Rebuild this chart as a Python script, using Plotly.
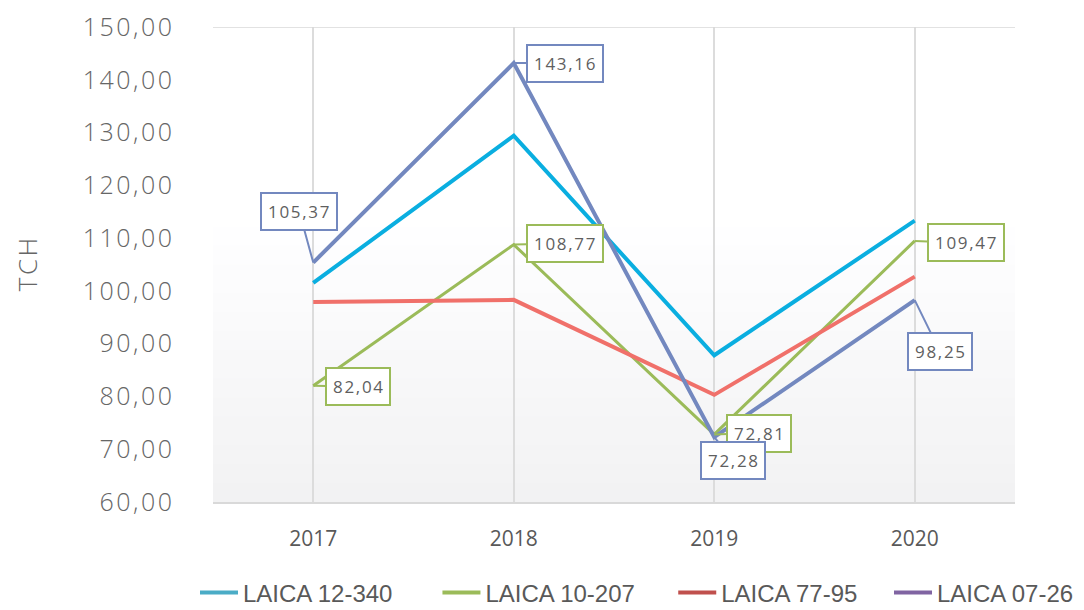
import plotly.graph_objects as go

years = ["2017", "2018", "2019", "2020"]
series_names = ["LAICA 12-340", "LAICA 10-207", "LAICA 77-95", "LAICA 07-26"]
v_12_340 = [101.5, 129.4, 87.8, 113.3]
v_10_207 = [82.04, 108.77, 72.81, 109.47]
v_77_95 = [97.9, 98.3, 80.3, 102.7]
v_07_26 = [105.37, 143.16, 72.28, 98.25]
y_ticks = [60, 70, 80, 90, 100, 110, 120, 130, 140, 150]

line_colors = ["#0AAEE0", "#9BBB59", "#F0706A", "#7388BF"]
legend_colors = ["#4BACC6", "#9BBB59", "#C0504D", "#8064A2"]
line_widths = [4, 3, 4, 4]
all_values = [v_12_340, v_10_207, v_77_95, v_07_26]

HS = "\u200a"
NB = "\u00a0"

W, H = 1068, 602  # page body has an 8px margin
PL, PT, PW, PH = 205, 19, 802, 475


def spaced(s):
    return HS.join(list(s))


def fmt(v):
    return f"{v:.2f}".replace(".", ",")


fig = go.Figure()

# background gradient bands (plot area)
n_bands = 30
for i in range(n_bands):
    y0 = i / n_bands * 0.6
    y1 = (i + 1) / n_bands * 0.6 + 0.002
    t = 1 - i / n_bands
    c = int(round(255 - 13 * t))
    fig.add_shape(type="rect", xref="x domain", yref="y domain",
                  x0=0, x1=1, y0=y0, y1=y1, layer="below",
                  line=dict(width=0), fillcolor=f"rgb({c},{c},{min(255, c + 1)})")

for name, vals, col, w in zip(series_names, all_values, line_colors, line_widths):
    fig.add_trace(go.Scatter(x=years, y=vals, mode="lines", name=name,
                             line=dict(color=col, width=w), showlegend=False,
                             hoverinfo="skip"))

pads = [NB * 6, NB * 5, NB * 4, ""]
for name, col, pad in zip(series_names, legend_colors, pads):
    fig.add_trace(go.Scatter(x=[None], y=[None], mode="lines", name=name + pad,
                             line=dict(color=col, width=4), showlegend=True))

# top border line at 150
fig.add_shape(type="line", xref="x domain", yref="y", x0=0, x1=1,
              y0=150, y1=150, line=dict(color="#D9D9D9", width=1.5))

# callouts: (series index, point index, ax, ay)
callouts = [
    (3, 0, -14, -51),
    (3, 1, 51, 0),
    (1, 1, 51, -1),
    (1, 0, 45, 1),
    (1, 2, 45, -1),
    (3, 2, 19, 23),
    (1, 3, 51, 2),
    (3, 3, 25, 51),
]
for si, pi, ax, ay in callouts:
    v = all_values[si][pi]
    fig.add_annotation(x=pi, y=v, xref="x", yref="y",
                       text=spaced(fmt(v)), showarrow=True,
                       arrowhead=0, arrowwidth=2, arrowcolor=line_colors[si],
                       ax=ax, ay=ay, bordercolor=line_colors[si], borderwidth=2,
                       borderpad=6, bgcolor="white",
                       font=dict(family="Open Sans", size=17, color="#5F5F5F"))

fig.update_layout(
    width=W, height=H,
    margin=dict(l=PL, r=W - PL - PW, t=PT, b=H - PT - PH, autoexpand=False),
    paper_bgcolor="white", plot_bgcolor="white",
    showlegend=True,
    legend=dict(orientation="h", x=(187 - PL) / PW, xanchor="left", xref="paper",
                y=(PT + PH - 585) / PH, yanchor="middle", yref="paper",
                itemwidth=38,
                font=dict(family="Liberation Sans", size=24, color="#595959"),
                bgcolor="rgba(0,0,0,0)"),
    xaxis=dict(type="category", range=[-0.5, 3.5], showgrid=True,
               gridcolor="#DCDCDC", gridwidth=1.5, showline=True,
               linecolor="#D9D9D9", linewidth=1.5, ticks="",
               tickfont=dict(family="Open Sans", size=21, color="#595959"),
               ticklabelstandoff=17, zeroline=False),
    yaxis=dict(range=[60, 150], tickvals=y_ticks,
               ticktext=[spaced(fmt(t)) for t in y_ticks],
               showgrid=False, zeroline=False, showline=False, ticks="",
               tickfont=dict(family="Open Sans", size=25, color="#666666", weight=300),
               ticklabelstandoff=40,
               title=dict(text=spaced("TCH"), standoff=37,
                          font=dict(family="Open Sans", size=26, color="#666666", weight=300))),
)

fig.write_html("out.html")
